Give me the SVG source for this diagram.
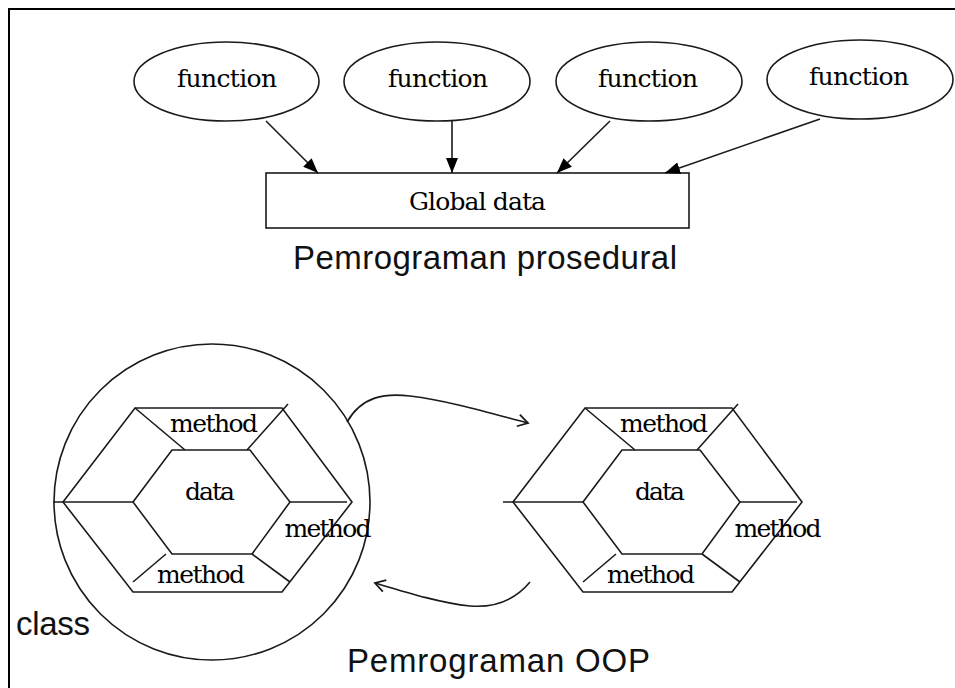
<svg xmlns="http://www.w3.org/2000/svg" width="955" height="688" viewBox="0 0 955 688">
<style>
.ln{fill:none;stroke:#1a1a1a;stroke-width:1.6}
.sh{fill:#fff;stroke:#1a1a1a;stroke-width:1.6}
.sf{font-family:"DejaVu Serif","Liberation Serif",serif;font-size:25px;fill:#000;text-anchor:middle}
.ss{font-family:"Liberation Sans",Arial,sans-serif;font-size:33px;fill:#111}
</style>
<defs>
<marker id="fill" markerWidth="16" markerHeight="12" refX="15" refY="6" orient="auto" markerUnits="userSpaceOnUse">
<path d="M0,0 L15,6 L0,12 Z" fill="#000"/>
</marker>
<marker id="open" markerWidth="14" markerHeight="14" refX="12" refY="7" orient="auto" markerUnits="userSpaceOnUse">
<path d="M2,1 L12,7 L2,13" fill="none" stroke="#1a1a1a" stroke-width="1.8"/>
</marker>
<g id="hex">
<polygon class="ln" points="63,502 135,408 282,408 352,502 282,592 133,592"/>
<polygon class="ln" points="133,502 172,450 250,450 290,502 252,554 172,554"/>
<line class="ln" x1="135" y1="408" x2="185" y2="450"/>
<line class="ln" x1="247" y1="450" x2="288" y2="404"/>
<line class="ln" x1="133" y1="582" x2="166" y2="554"/>
<line class="ln" x1="252" y1="554" x2="290" y2="582"/>
<line class="ln" x1="53" y1="502" x2="133" y2="502"/>
<line class="ln" x1="290" y1="502" x2="347" y2="502"/>
<text class="sf" x="214" y="432" textLength="88">method</text>
<text class="sf" x="210" y="500" textLength="50">data</text>
<text class="sf" x="328" y="537" textLength="87">method</text>
<text class="sf" x="201" y="583" textLength="88">method</text>
</g>
</defs>
<path d="M9,700 V9 H960" fill="none" stroke="#000" stroke-width="2"/>

<g id="function1"><ellipse class="sh" cx="226.5" cy="81.5" rx="92.5" ry="39.5"/><text class="sf" x="227" y="87" textLength="100">function</text></g>
<g id="function2"><ellipse class="sh" cx="437" cy="81.5" rx="93" ry="39.5"/><text class="sf" x="438" y="87" textLength="100">function</text></g>
<g id="function3"><ellipse class="sh" cx="649" cy="81.5" rx="93" ry="39.5"/><text class="sf" x="648" y="87" textLength="100">function</text></g>
<g id="function4"><ellipse class="sh" cx="860" cy="79.5" rx="93" ry="39.5"/><text class="sf" x="859" y="85" textLength="100">function</text></g>
<g id="globaldata"><rect class="sh" x="266" y="173" width="423" height="55"/><text class="sf" x="477.5" y="210" textLength="137">Global data</text></g>
<text class="ss" x="293" y="269" textLength="384">Pemrograman prosedural</text>

<g id="class1">
<circle class="ln" cx="212" cy="502" r="158"/>
<use href="#hex"/>
</g>
<g id="object2">
<use href="#hex" transform="translate(450,0)"/>
</g>
<text class="ss" x="16" y="635" textLength="74">class</text>
<text class="ss" x="347" y="672" textLength="303">Pemrograman OOP</text>

<g id="connectors">
<line class="ln" x1="266" y1="121" x2="318" y2="173" marker-end="url(#fill)"/>
<line class="ln" x1="452" y1="121" x2="452" y2="173" marker-end="url(#fill)"/>
<line class="ln" x1="610" y1="121" x2="557" y2="173" marker-end="url(#fill)"/>
<line class="ln" x1="820" y1="119" x2="665" y2="173" marker-end="url(#fill)"/>
<path class="ln" d="M347,422 C362,396 385,393 410,396 C450,401 490,413 528,423" marker-end="url(#open)"/>
<path class="ln" d="M530,582 C515,600 495,608 470,606 C440,603 405,592 375,583" marker-end="url(#open)"/>
</g>
</svg>
